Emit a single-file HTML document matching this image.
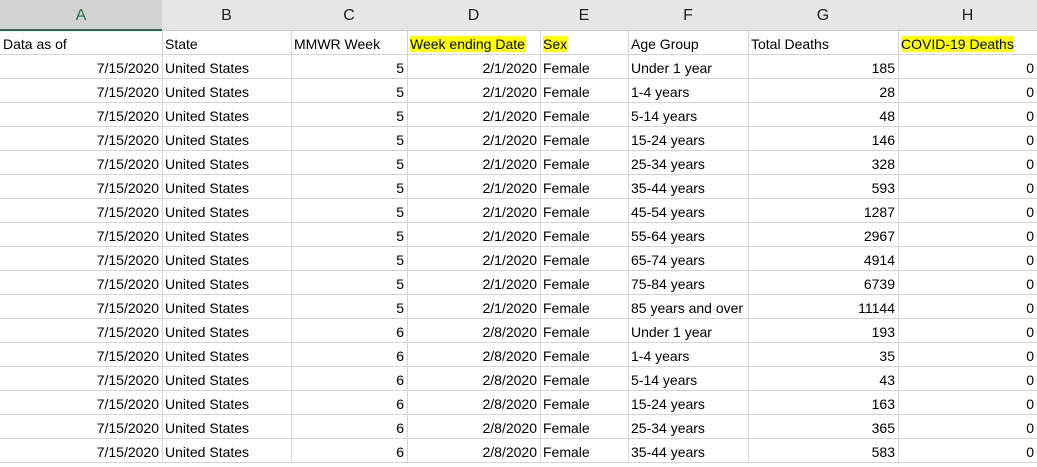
<!DOCTYPE html>
<html><head><meta charset="utf-8"><style>
body{margin:0;width:1037px;height:467px;overflow:hidden;background:#fff;font-family:"Liberation Sans",sans-serif;}
#g{position:absolute;left:0;top:0;width:1037px;height:467px;}
.ch{position:absolute;top:0;height:30px;background:#e6e6e6;border-right:1px solid #c8c8c8;border-bottom:1px solid #c8c8c8;box-sizing:border-box;text-align:center;line-height:32px;font-size:16px;color:#222;}
.ch.sel{background:#d2d2d2;color:#217346;border-bottom:2px solid #217346;}
.c{position:absolute;height:24px;border-right:1px solid #d4d4d4;border-bottom:1px solid #d4d4d4;box-sizing:border-box;font-size:14px;line-height:26px;color:#000;white-space:nowrap;overflow:hidden;padding:0 3px;}
.r{text-align:right;}
.hl{background:#ffff00;}
.clip{display:inline-block;width:114px;overflow:hidden;vertical-align:top;}
</style></head><body>
<div id="g"></div>
<script>
const cols=[0,162,291,407,540,628,748,898,1037];
const letters=['A','B','C','D','E','F','G','H'];
const headers=['Data as of','State','MMWR Week','Week ending Date','Sex','Age Group','Total Deaths','COVID-19 Deaths'];
const ages=['Under 1 year','1-4 years','5-14 years','15-24 years','25-34 years','35-44 years','45-54 years','55-64 years','65-74 years','75-84 years','85 years and over','Under 1 year','1-4 years','5-14 years','15-24 years','25-34 years','35-44 years'];
const weeks=[5,5,5,5,5,5,5,5,5,5,5,6,6,6,6,6,6,6];
const totals=[185,28,48,146,328,593,1287,2967,4914,6739,11144,193,35,43,163,365,583];
const g=document.getElementById('g');
function cell(x0,x1,y,h,txt,cls,name,inter){
  const d=document.createElement('div');
  d.className=cls;
  d.style.left=x0+'px';d.style.top=y+'px';d.style.width=(x1-x0+1)+'px';d.style.height=h+'px';
  d.textContent=txt;
  
  
  g.appendChild(d);return d;
}
for(let i=0;i<8;i++){
  cell(cols[i],cols[i+1],0,31,letters[i],'ch'+(i==0?' sel':''),'column-header-'+letters[i].toLowerCase(),'true');
}
for(let i=0;i<8;i++){
  const d=cell(cols[i],cols[i+1],31,24,'', 'c','header-'+headers[i].toLowerCase().replace(/[^a-z0-9]+/g,'-'),'true');
  const s=document.createElement('span');s.textContent=headers[i];
  if(i==3||i==4||i==7){s.className='hl';}
  d.appendChild(s);
}
for(let r=0;r<ages.length;r++){
  const y=55+r*24;
  const vals=['7/15/2020','United States',String(weeks[r]),weeks[r]==5?'2/1/2020':'2/8/2020','Female',ages[r],String(totals[r]),'0'];
  const right=[1,0,1,1,0,0,1,1];
  for(let i=0;i<8;i++){
    const d=cell(cols[i],cols[i+1],y,24,i==5?'':vals[i],'c'+(right[i]?' r':''),'cell-'+letters[i].toLowerCase()+(r+2),'true');
    if(i==5){const s=document.createElement('span');s.className='clip';s.textContent=vals[i];d.appendChild(s);}
  }
}
</script>
</body></html>
